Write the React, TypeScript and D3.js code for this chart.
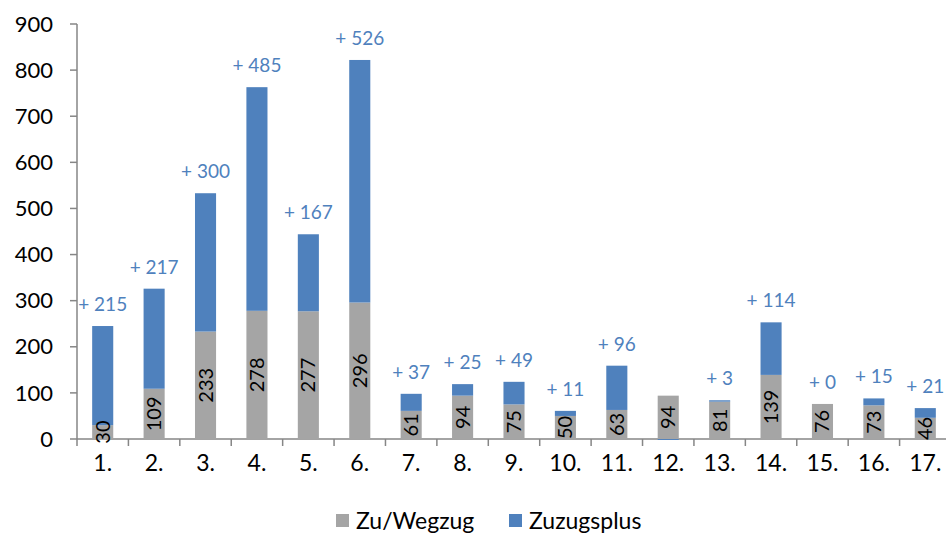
import React from "react";
import * as d3 from "d3";

const categories = ["1.", "2.", "3.", "4.", "5.", "6.", "7.", "8.", "9.", "10.", "11.", "12.", "13.", "14.", "15.", "16.", "17."];
const zuWegzug = [30, 109, 233, 278, 277, 296, 61, 94, 75, 50, 63, 94, 81, 139, 76, 73, 46];
const zuzugsplus = [215, 217, 300, 485, 167, 526, 37, 25, 49, 11, 96, -2, 3, 114, 0, 15, 21];
const yTicks = [0, 100, 200, 300, 400, 500, 600, 700, 800, 900];

const W = 946;
const H = 541;
const GRAY = "#A5A5A5";
const BLUE = "#4F81BD";
const AXIS = "#868686";
const FONT = "Lato, 'Open Sans', sans-serif";

export default function App() {
  const x = d3.scaleBand<string>().domain(categories).range([77, 951]).paddingInner(0.59).paddingOuter(0.295);
  const y = d3.scaleLinear().domain([0, 900]).range([439, 24]);
  const bw = x.bandwidth();

  return (
    <svg width={W} height={H} style={{ position: "absolute", left: 0, top: 0, background: "#fff" }}>
      <line x1={77} x2={77} y1={y(900)} y2={y(0)} stroke={AXIS} strokeWidth={1.5} />
      <line x1={77} x2={W} y1={y(0)} y2={y(0)} stroke={AXIS} strokeWidth={1.5} />
      {yTicks.map((t) => (
        <g key={t}>
          <line x1={70} x2={77} y1={y(t)} y2={y(t)} stroke={AXIS} strokeWidth={1.5} />
          <text x={53} y={y(t)} dy="0.35em" textAnchor="end" fontFamily={FONT} fontSize={22} fill="#000">
            {t}
          </text>
        </g>
      ))}
      {categories.map((c, i) => {
        const x0 = 77 + i * ((951 - 77) / categories.length);
        return <line key={"t" + c} x1={x0} x2={x0} y1={y(0)} y2={y(0) + 7} stroke={AXIS} strokeWidth={1.5} />;
      })}
      {categories.map((c) => (
        <text key={"l" + c} x={(x(c) as number) + bw / 2} y={471} textAnchor="middle" fontFamily={FONT} fontSize={23} fill="#000">
          {c}
        </text>
      ))}
      {categories.map((c, i) => {
        const bx = x(c) as number;
        const g = zuWegzug[i];
        const b = zuzugsplus[i];
        const cx = bx + bw / 2;
        const blueRect =
          b >= 0 ? (
            <rect x={bx} y={y(g + b)} width={bw} height={y(g) - y(g + b)} fill={BLUE} />
          ) : (
            <rect x={bx} y={y(0)} width={bw} height={y(b) - y(0)} fill={BLUE} />
          );
        const top = b >= 0 ? g + b : g;
        return (
          <g key={"b" + c}>
            <rect x={bx} y={y(g)} width={bw} height={y(0) - y(g)} fill={GRAY} />
            {blueRect}
            <text
              transform={`translate(${cx},${y(g / 2)}) rotate(-90)`}
              textAnchor="middle"
              dy="0.35em"
              fontFamily={FONT}
              fontSize={20}
              fill="#000"
            >
              {g}
            </text>
            {b >= 0 && (
              <text x={cx} y={y(top) - 15} textAnchor="middle" fontFamily={FONT} fontSize={19} fill={BLUE}>
                {"+ " + b}
              </text>
            )}
          </g>
        );
      })}
      <rect x={336} y={514} width={13} height={13} fill={GRAY} />
      <text x={356} y={529} fontFamily={FONT} fontSize={23} fill="#000">Zu/Wegzug</text>
      <rect x={509} y={514} width={13} height={13} fill={BLUE} />
      <text x={529} y={529} fontFamily={FONT} fontSize={23} fill="#000">Zuzugsplus</text>
    </svg>
  );
}
